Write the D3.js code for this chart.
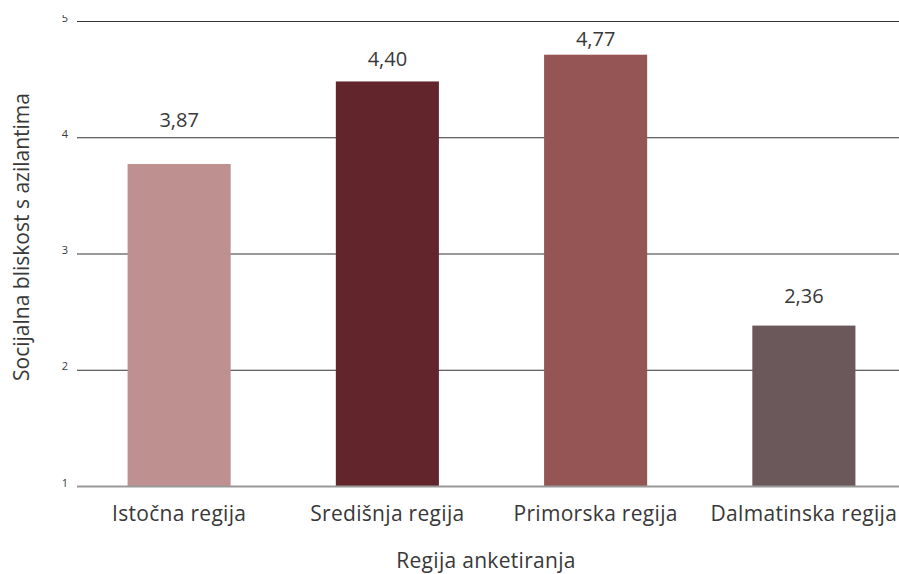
<!DOCTYPE html>
<html lang="hr">
<head>
<meta charset="utf-8">
<title>Socijalna bliskost po regijama</title>
<script src="https://cdn.jsdelivr.net/npm/d3@7"></script>
<style>
  body { margin: 0; background: #fff; }
  svg { display: block; font-family: "Open Sans", sans-serif; }
</style>
</head>
<body>
<script>
// data
var regions = ["Istočna regija", "Središnja regija", "Primorska regija", "Dalmatinska regija"];
var barValues = [3.77, 4.48, 4.71, 2.38];      // heights as drawn
var labelValues = [3.87, 4.40, 4.77, 2.36];    // printed values
var colors = ["#bf9090", "#61252b", "#955555", "#6b585a"];
var yTicks = [1, 2, 3, 4, 5];

var W = 899, H = 574;
var plotLeft = 77, plotTop = 21, plotBottom = 486;
var textColor = "#383838";

var svg = d3.select("body").append("svg")
    .attr("width", W)
    .attr("height", H);

// the top tick label is cut off in the original
svg.append("clipPath").attr("id", "axisclip")
  .append("rect")
    .attr("x", -plotLeft).attr("y", 15)
    .attr("width", W + plotLeft).attr("height", H);

var x = d3.scaleBand()
    .domain(regions)
    .range([75, 908])
    .paddingInner(0.505)
    .paddingOuter(0.2525);

var y = d3.scaleLinear()
    .domain([1, 5])
    .range([plotBottom, plotTop]);

// grid lines + tick labels
var yAxis = d3.axisLeft(y)
    .tickValues(yTicks)
    .tickSize(-(W - plotLeft))
    .tickPadding(9)
    .tickFormat(d3.format("d"));

var gy = svg.append("g")
    .attr("transform", "translate(" + plotLeft + ",0)")
    .attr("clip-path", "url(#axisclip)")
    .call(yAxis);
gy.select(".domain").remove();
gy.selectAll(".tick line")
    .attr("stroke", "#333")
    .attr("stroke-width", 1);
gy.selectAll(".tick text")
    .attr("fill", textColor)
    .attr("font-size", "11px")
    .attr("font-family", "Open Sans, sans-serif")
    .attr("dy", "0");

// bars
svg.append("g").selectAll("rect")
    .data(regions)
    .enter().append("rect")
    .attr("x", function(d) { return x(d); })
    .attr("width", x.bandwidth())
    .attr("y", function(d, i) { return y(barValues[i]); })
    .attr("height", function(d, i) { return plotBottom - y(barValues[i]); })
    .attr("fill", function(d, i) { return colors[i]; });

// base line at 1
svg.append("line")
    .attr("x1", plotLeft).attr("x2", W)
    .attr("y1", y(1) + 0.5).attr("y2", y(1) + 0.5)
    .attr("stroke", "#999")
    .attr("stroke-width", 2);

// value labels
svg.append("g").selectAll("text")
    .data(regions)
    .enter().append("text")
    .attr("x", function(d) { return x(d) + x.bandwidth() / 2; })
    .attr("y", function(d, i) { return Math.max(y(labelValues[i]) - 25, 46); })
    .attr("text-anchor", "middle")
    .attr("font-size", "20px")
    .attr("fill", textColor)
    .text(function(d, i) { return labelValues[i].toFixed(2).replace(".", ","); });

// category labels
svg.append("g").selectAll("text")
    .data(regions)
    .enter().append("text")
    .attr("x", function(d) { return x(d) + x.bandwidth() / 2; })
    .attr("y", 521)
    .attr("text-anchor", "middle")
    .attr("font-size", "21px")
    .attr("letter-spacing", "0.3px")
    .attr("fill", textColor)
    .text(function(d) { return d; });

// axis titles
svg.append("text")
    .attr("x", 486)
    .attr("y", 568)
    .attr("text-anchor", "middle")
    .attr("font-size", "21px")
    .attr("letter-spacing", "0.3px")
    .attr("fill", textColor)
    .text("Regija anketiranja");

svg.append("text")
    .attr("transform", "translate(29,237) rotate(-90)")
    .attr("text-anchor", "middle")
    .attr("font-size", "21px")
    .attr("fill", textColor)
    .text("Socijalna bliskost s azilantima");
</script>
</body>
</html>
